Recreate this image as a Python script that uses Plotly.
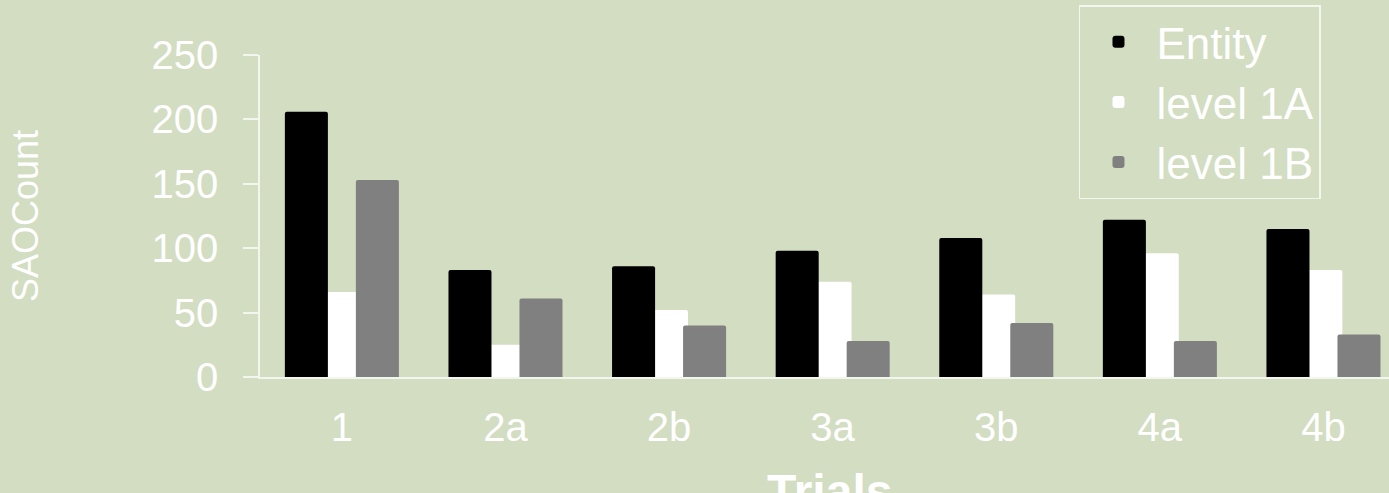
import plotly.graph_objects as go

trials = ["1", "2a", "2b", "3a", "3b", "4a", "4b"]
entity = [206, 83, 86, 98, 108, 122, 115]
level_1a = [66, 25, 52, 74, 64, 96, 83]
level_1b = [153, 61, 40, 28, 42, 28, 33]
y_ticks = [0, 50, 100, 150, 200, 250]

BG = "#d2ddc2"
AX = "#f3f6ee"
FONT = "Liberation Sans, Arial, sans-serif"

fig = go.Figure()
# white drawn first (sits behind the neighbours)
fig.add_trace(go.Bar(x=trials, y=level_1a, name="level 1A", marker=dict(color="#ffffff", line=dict(width=0), cornerradius=2),
                     offset=-0.116, width=0.232, legendrank=2))
fig.add_trace(go.Bar(x=trials, y=entity, name="Entity", marker=dict(color="#000000", line=dict(width=0), cornerradius=2),
                     offset=-0.348, width=0.263, legendrank=1))
fig.add_trace(go.Bar(x=trials, y=level_1b, name="level 1B", marker=dict(color="#808080", line=dict(width=0), cornerradius=2),
                     offset=0.086, width=0.263, legendrank=3))

fig.update_layout(
    width=1389, height=493,
    margin=dict(l=260, r=0, t=55, b=116, autoexpand=False),
    paper_bgcolor=BG, plot_bgcolor=BG,
    barmode="overlay",
    font=dict(family=FONT, color="#ffffff"),
    legend=dict(x=0.7254, y=1.155, xanchor="left", yanchor="top",
                bgcolor="rgba(0,0,0,0)", bordercolor=AX, borderwidth=1.5,
                font=dict(size=44, color="#ffffff"), traceorder="normal",
                itemsizing="constant", itemwidth=66),
    showlegend=True,
    annotations=[dict(text="<b>Trials</b>", xref="paper", yref="paper", x=0.504, y=0,
                      xanchor="center", yanchor="top", yshift=-86, showarrow=False,
                      font=dict(size=48, color="#ffffff", family=FONT))],
)
fig.update_xaxes(
    type="category", range=[-0.5, 6.401],
    showline=True, linecolor=AX, linewidth=1.5,
    showgrid=False, ticks="", zeroline=False,
    tickfont=dict(size=40, color="#ffffff"), ticklabelstandoff=14,
    automargin=False,
)
fig.update_yaxes(
    range=[0, 250], tickvals=y_ticks, ticktext=[str(v) for v in y_ticks],
    showline=True, linecolor=AX, linewidth=1.5,
    ticks="outside", ticklen=15, tickcolor=AX, tickwidth=1.5,
    showgrid=False, zeroline=False,
    tickfont=dict(size=40, color="#ffffff"), ticklabelstandoff=17,
    title=dict(text="SAOCount", font=dict(size=36, color="#ffffff"), standoff=102),
    automargin=False,
)

fig.write_html(
    "out.html",
    config={"displayModeBar": False},
    post_script="document.body.style.margin='0px';document.body.style.background='%s';" % BG,
)
